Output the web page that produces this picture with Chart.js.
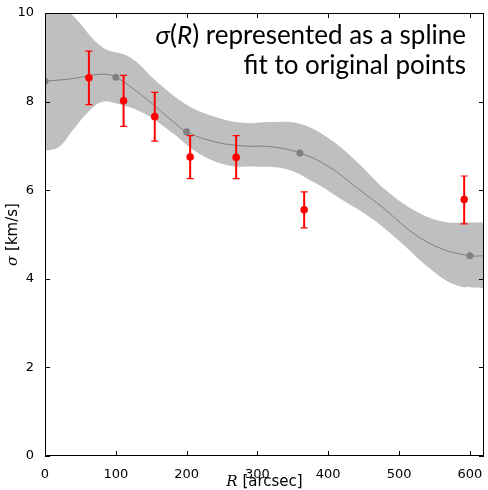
<!DOCTYPE html>
<html>
<head>
<meta charset="utf-8">
<script src="https://cdn.jsdelivr.net/npm/chart.js@4.4.1/dist/chart.umd.min.js"></script>
<style>
    html, body { margin: 0; padding: 0; background: #fff; }
    #wrap { width: 488px; height: 490px; }
</style>
</head>
<body>
<div id="wrap"><canvas id="sigmaChart" width="488" height="490"></canvas></div>
<script>
// Spline fit
const lineR = [0, 40, 80, 100, 140, 180, 200, 240, 280, 320, 360, 400, 440, 480, 520, 560, 600, 620];
const lineS = [8.46, 8.52, 8.62, 8.55, 8.10, 7.56, 7.32, 7.09, 7.00, 6.98, 6.84, 6.54, 6.06, 5.57, 5.03, 4.68, 4.52, 4.52];

// Upper / lower edge of the grey band
const upperR = [0, 40, 80, 120, 160, 200, 240, 280, 320, 360, 400, 440, 480, 520, 560, 600, 620];
const upperS = [10.5, 9.93, 9.24, 9.00, 8.42, 7.93, 7.66, 7.52, 7.54, 7.50, 7.18, 6.65, 6.02, 5.56, 5.30, 5.27, 5.27];
const lowerR = [0, 20, 40, 60, 80, 100, 140, 180, 220, 260, 300, 340, 380, 420, 460, 500, 540, 580, 620];
const lowerS = [6.88, 6.98, 7.37, 7.75, 7.99, 7.96, 7.73, 7.29, 6.80, 6.56, 6.53, 6.48, 6.18, 5.78, 5.38, 4.86, 4.28, 3.86, 3.79];

// Spline knots
const knotR = [0, 100, 200, 360, 600];
const knotS = [8.46, 8.55, 7.32, 6.84, 4.52];

// Original measurements with errors
const obsR = [62, 111, 155, 205, 270, 366, 592];
const obsS = [8.54, 8.02, 7.66, 6.75, 6.74, 5.56, 5.79];
const obsLo = [7.93, 7.44, 7.11, 6.26, 6.26, 5.15, 5.24];
const obsHi = [9.14, 8.59, 8.21, 7.23, 7.23, 5.96, 6.32];

// Axis ticks
const xTicks = [0, 100, 200, 300, 400, 500, 600];
const yTicks = [0, 2, 4, 6, 8, 10];

const toPoints = (xs, ys) => xs.map((x, i) => ({ x: x, y: ys[i] }));

// Inward ticks on all four sides plus the frame
const framePlugin = {
    id: 'frame',
    afterDraw(chart) {
        const ctx = chart.ctx;
        const a = chart.chartArea;
        const xs = chart.scales.x;
        const ys = chart.scales.y;
        ctx.save();
        ctx.strokeStyle = '#000';
        ctx.lineWidth = 1;
        ctx.beginPath();
        xTicks.forEach(v => {
            const px = Math.round(xs.getPixelForValue(v)) + 0.5;
            ctx.moveTo(px, a.bottom);
            ctx.lineTo(px, a.bottom - 5);
            ctx.moveTo(px, a.top);
            ctx.lineTo(px, a.top + 5);
        });
        yTicks.forEach(v => {
            const py = Math.round(ys.getPixelForValue(v)) + 0.5;
            ctx.moveTo(a.left, py);
            ctx.lineTo(a.left + 5, py);
            ctx.moveTo(a.right, py);
            ctx.lineTo(a.right - 5, py);
        });
        ctx.stroke();
        ctx.strokeRect(Math.round(a.left) + 0.5, Math.round(a.top) + 0.5,
            Math.round(a.right - a.left) - 1, Math.round(a.bottom - a.top) - 1);
        ctx.restore();
    }
};

// Red error bars with caps
const errorBarPlugin = {
    id: 'errorBars',
    afterDatasetsDraw(chart) {
        const ctx = chart.ctx;
        const xs = chart.scales.x;
        const ys = chart.scales.y;
        ctx.save();
        ctx.strokeStyle = '#ff0000';
        obsR.forEach((r, i) => {
            const px = xs.getPixelForValue(r);
            const top = ys.getPixelForValue(obsHi[i]);
            const bot = ys.getPixelForValue(obsLo[i]);
            ctx.lineWidth = 2;
            ctx.beginPath();
            ctx.moveTo(px, top);
            ctx.lineTo(px, bot);
            ctx.stroke();
            ctx.lineWidth = 1.2;
            ctx.beginPath();
            ctx.moveTo(px - 3.5, top);
            ctx.lineTo(px + 3.5, top);
            ctx.moveTo(px - 3.5, bot);
            ctx.lineTo(px + 3.5, bot);
            ctx.stroke();
        });
        ctx.restore();
    }
};

// Title and axis labels (mixed italic math symbols)
function drawPieces(ctx, pieces, x, y, align) {
    let total = 0;
    pieces.forEach(p => { ctx.font = p.font; total += ctx.measureText(p.text).width; });
    let cx = align === 'right' ? x - total : (align === 'center' ? x - total / 2 : x);
    pieces.forEach(p => {
        ctx.font = p.font;
        ctx.fillText(p.text, cx, y);
        cx += ctx.measureText(p.text).width;
    });
}

const labelsPlugin = {
    id: 'labels',
    afterDraw(chart) {
        const ctx = chart.ctx;
        const a = chart.chartArea;
        ctx.save();
        ctx.fillStyle = '#000';
        ctx.textBaseline = 'alphabetic';
        const sans = '26px Lato, "DejaVu Sans"';
        const sansI = 'italic 26px Lato, "DejaVu Sans"';
        drawPieces(ctx, [
            { text: 'σ', font: sansI },
            { text: '(', font: sans },
            { text: 'R', font: sansI },
            { text: ')', font: sans },
            { text: ' represented as a spline', font: sans }
        ], 466, 44, 'right');
        drawPieces(ctx, [{ text: 'fit to original points', font: sans }], 466, 74, 'right');

        // x axis label
        drawPieces(ctx, [
            { text: 'R', font: 'italic 15px "DejaVu Serif"' },
            { text: ' [arcsec]', font: '15px "DejaVu Sans"' }
        ], (a.left + a.right) / 2, 486, 'center');

        // y axis label
        ctx.translate(17, (a.top + a.bottom) / 2);
        ctx.rotate(-Math.PI / 2);
        drawPieces(ctx, [
            { text: 'σ', font: 'italic 15px "DejaVu Serif"' },
            { text: ' [km/s]', font: '15px "DejaVu Sans"' }
        ], 0, 0, 'center');
        ctx.restore();
    }
};

document.addEventListener('DOMContentLoaded', function() {
    const ctx = document.getElementById('sigmaChart').getContext('2d');
    new Chart(ctx, {
        type: 'scatter',
        data: {
            datasets: [{
                label: 'upper',
                data: toPoints(upperR, upperS),
                showLine: true,
                borderWidth: 0,
                pointRadius: 0,
                tension: 0.4,
                fill: false,
                order: 10
            }, {
                label: 'lower',
                data: toPoints(lowerR, lowerS),
                showLine: true,
                borderWidth: 0,
                pointRadius: 0,
                tension: 0.4,
                backgroundColor: '#bfbfbf',
                fill: '-1',
                order: 9
            }, {
                label: 'spline',
                data: toPoints(lineR, lineS),
                showLine: true,
                borderColor: '#808080',
                borderWidth: 1,
                pointRadius: 0,
                tension: 0.4,
                order: 5
            }, {
                label: 'knots',
                data: toPoints(knotR, knotS),
                showLine: false,
                pointRadius: 3.5,
                pointBackgroundColor: '#808080',
                pointBorderWidth: 0,
                order: 4
            }, {
                label: 'observed',
                data: toPoints(obsR, obsS),
                showLine: false,
                pointRadius: 3.8,
                pointBackgroundColor: '#ff0000',
                pointBorderWidth: 0,
                order: 1
            }]
        },
        options: {
            responsive: false,
            animation: false,
            layout: { padding: { top: 13, right: 1, left: 0, bottom: 0 } },
            plugins: {
                legend: { display: false },
                tooltip: { enabled: false }
            },
            scales: {
                x: {
                    type: 'linear',
                    min: 0,
                    max: 620,
                    afterFit: s => { s.height = 34; },
                    afterBuildTicks: s => { s.ticks = xTicks.map(v => ({ value: v })); },
                    grid: { display: false },
                    border: { display: false },
                    ticks: {
                        color: '#000',
                        padding: 3,
                        maxRotation: 0,
                        font: { family: 'DejaVu Sans', size: 13 }
                    }
                },
                y: {
                    type: 'linear',
                    min: 0,
                    max: 10,
                    afterFit: s => { s.width = 45; },
                    afterBuildTicks: s => { s.ticks = yTicks.map(v => ({ value: v })); },
                    grid: { display: false },
                    border: { display: false },
                    ticks: {
                        color: '#000',
                        padding: 3,
                        font: { family: 'DejaVu Sans', size: 13 }
                    }
                }
            }
        },
        plugins: [framePlugin, errorBarPlugin, labelsPlugin]
    });
});
</script>
</body>
</html>
